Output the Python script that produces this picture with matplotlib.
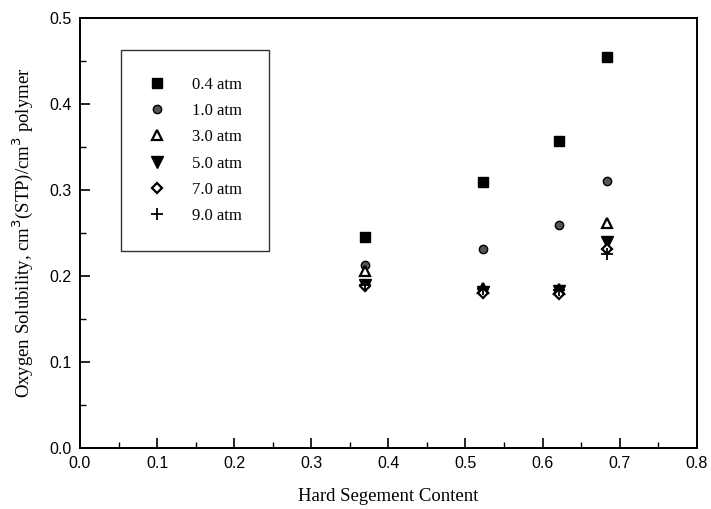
import matplotlib
matplotlib.use("Agg")
import matplotlib.pyplot as plt
from matplotlib.ticker import MultipleLocator

# hard segment content of the four samples
hard_segment = [0.37, 0.523, 0.621, 0.683]

# oxygen solubility at each pressure
pressures = ["0.4 atm", "1.0 atm", "3.0 atm", "5.0 atm", "7.0 atm", "9.0 atm"]
sol_04 = [0.245, 0.309, 0.357, 0.455]
sol_10 = [0.213, 0.231, 0.259, 0.311]
sol_30 = [0.206, 0.186, 0.185, 0.262]
sol_50 = [0.190, 0.182, 0.183, 0.240]
sol_70 = [0.188, 0.180, 0.179, 0.231]
sol_90 = [0.190, 0.185, 0.184, 0.226]

series = [sol_04, sol_10, sol_30, sol_50, sol_70, sol_90]
styles = [
    dict(marker="s", mfc="black", markersize=7),
    dict(marker="o", mfc="#555555", markersize=6),
    dict(marker="^", mfc="white", markersize=7, markeredgewidth=1.6),
    dict(marker="v", mfc="black", markersize=8),
    dict(marker="D", mfc="white", markersize=5.5, markeredgewidth=1.6),
    dict(marker="+", mfc="black", markersize=9, markeredgewidth=1.3),
]

serif = "Liberation Serif"
sans = "Liberation Sans"

fig = plt.figure(figsize=(7.11, 5.09), dpi=100)
ax = fig.add_axes([0.1125, 0.1198, 0.8675, 0.8448])

for vals, label, st in zip(series, pressures, styles):
    ax.plot(hard_segment, vals, linestyle="none", label=label,
            markeredgecolor="black", **st)

ax.set_xlim(0.0, 0.8)
ax.set_ylim(0.0, 0.5)
ax.xaxis.set_major_locator(MultipleLocator(0.1))
ax.xaxis.set_minor_locator(MultipleLocator(0.05))
ax.yaxis.set_major_locator(MultipleLocator(0.1))
ax.yaxis.set_minor_locator(MultipleLocator(0.05))
ax.tick_params(which="both", direction="in", top=False, right=False)
ax.tick_params(which="major", length=7, width=1.2, labelsize=11.5, pad=6)
ax.tick_params(which="minor", length=4, width=1)
for lab in ax.get_xticklabels() + ax.get_yticklabels():
    lab.set_fontfamily(sans)
for sp in ax.spines.values():
    sp.set_linewidth(1.4)

ax.set_xlabel("Hard Segement Content", fontfamily=serif, fontsize=13.5, labelpad=12)
ax.set_ylabel("Oxygen Solubility, cm$^3$(STP)/cm$^3$ polymer", fontfamily=serif,
              fontsize=13.5, labelpad=10)

leg = ax.legend(loc="upper left", bbox_to_anchor=(0.066, 0.926), prop={"family": serif, "size": 12},
                frameon=True, fancybox=False, edgecolor="black", borderpad=1.6,
                labelspacing=0.62, handletextpad=1.5, borderaxespad=0, handlelength=1.2)
leg.get_frame().set_linewidth(1.0)

fig.savefig("out.png", dpi=100)
